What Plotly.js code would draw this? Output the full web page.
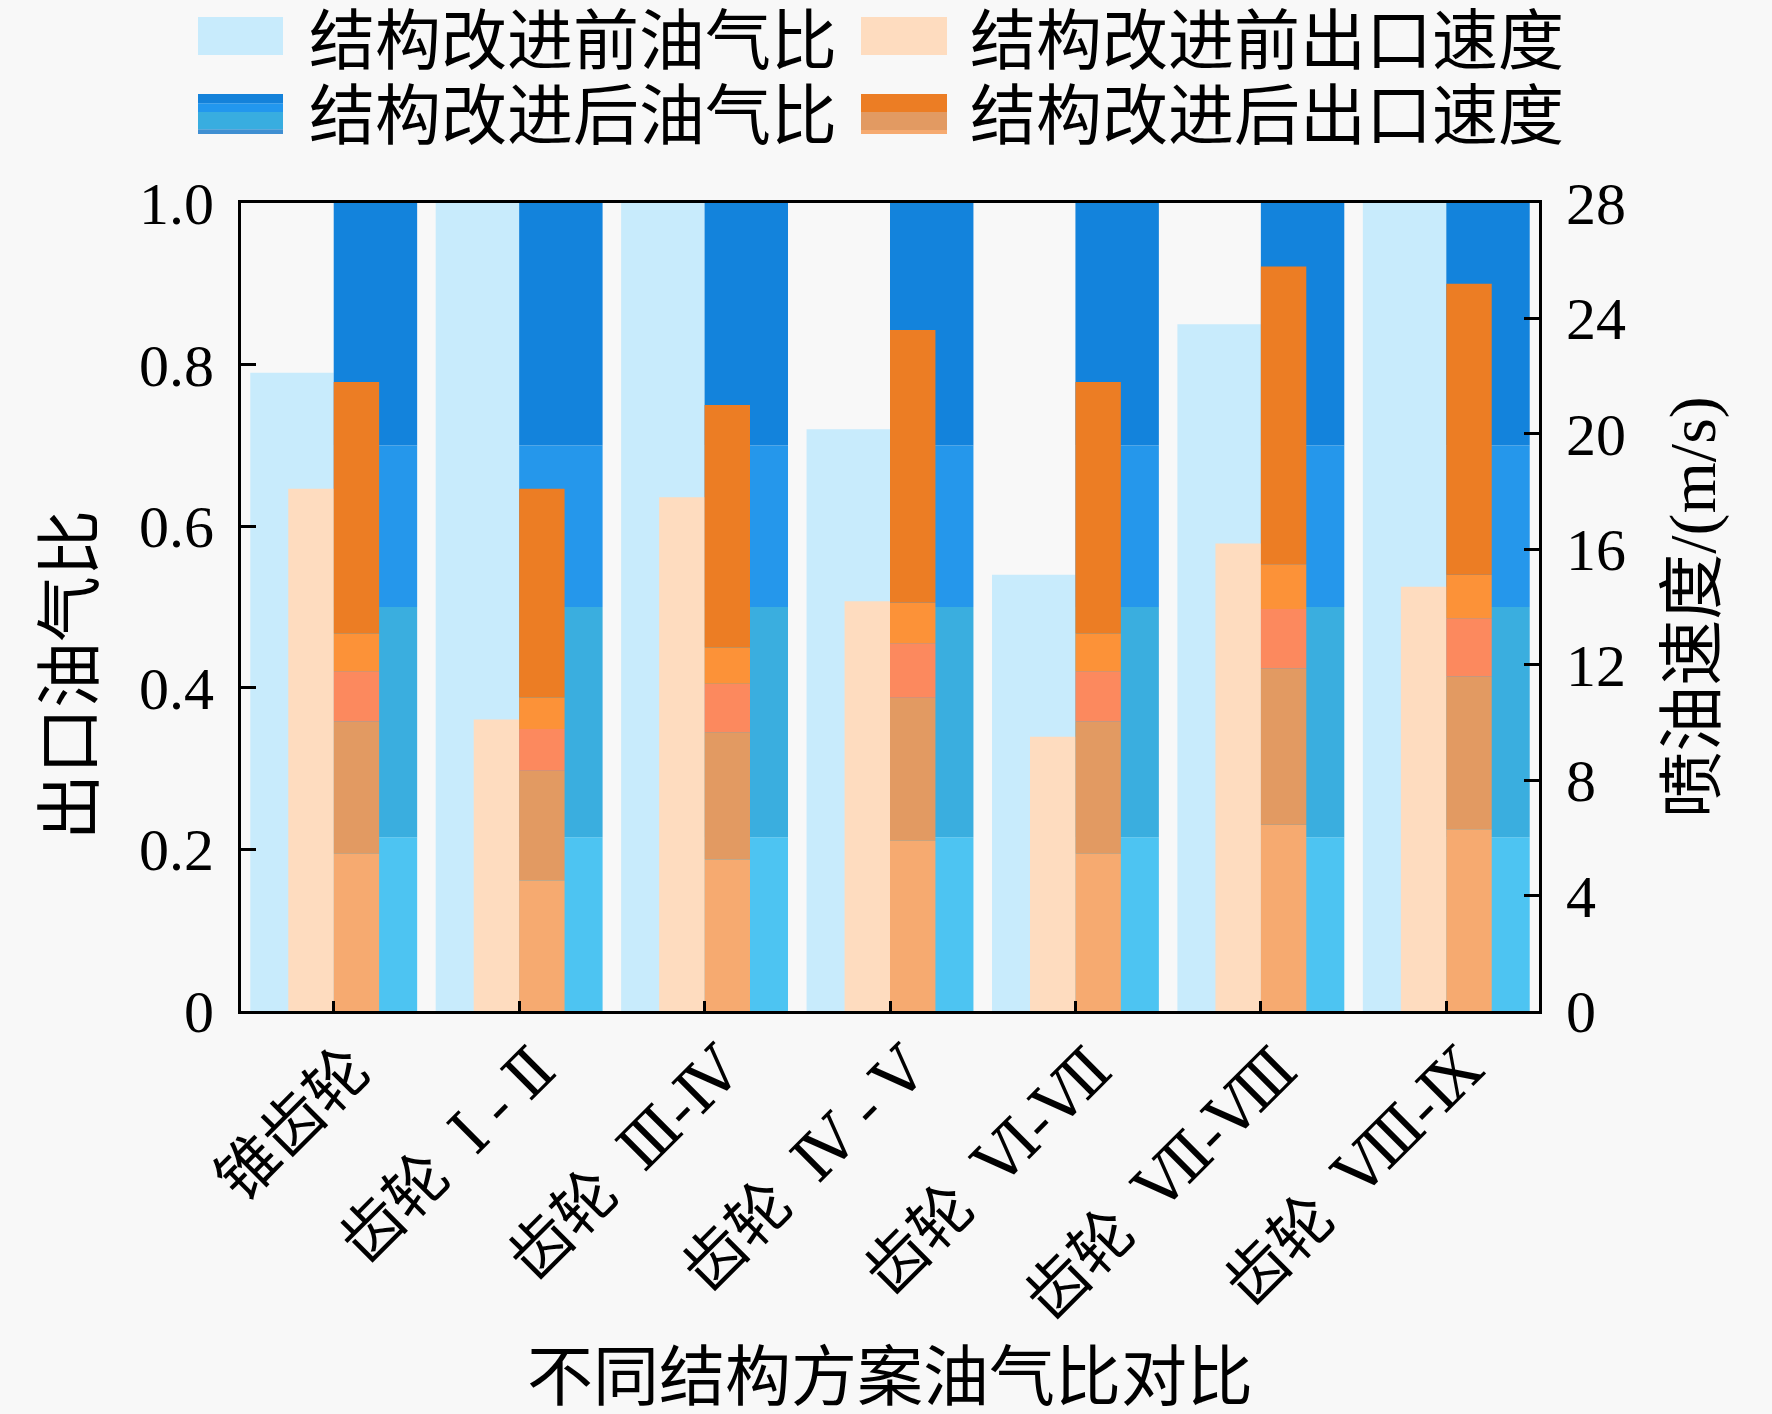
<!DOCTYPE html>
<html>
<head>
<meta charset="utf-8">
<script src="https://cdn.plot.ly/plotly-3.0.1.min.js"></script>
<style>
  html, body { margin: 0; padding: 0; background: #f8f8f8; }
  #chart { width: 1772px; height: 1414px; }
</style>
</head>
<body>
<div id="chart"></div>
<script>
// ---------------- data ----------------
const GAP = '\u00a0\u00a0';
const categories = ['锥齿轮', '齿轮' + GAP + 'Ⅰ - Ⅱ', '齿轮' + GAP + 'Ⅲ-Ⅳ', '齿轮' + GAP + 'Ⅳ - Ⅴ',
                    '齿轮' + GAP + 'Ⅵ-Ⅶ', '齿轮' + GAP + 'Ⅶ-Ⅷ', '齿轮' + GAP + 'Ⅷ-Ⅸ'];
const ratioBefore = [0.79, 1.0, 1.0, 0.72, 0.54, 0.85, 1.0];   // 结构改进前油气比
const ratioAfter  = [1.0, 1.0, 1.0, 1.0, 1.0, 1.0, 1.0];       // 结构改进后油气比
const speedBefore = [18.1, 10.1, 17.8, 14.2, 9.5, 16.2, 14.7];  // 结构改进前出口速度 (m/s)
const speedAfter  = [21.8, 18.1, 21.0, 23.6, 21.8, 25.8, 25.2]; // 结构改进后出口速度 (m/s)
const leftTicks  = [0, 0.2, 0.4, 0.6, 0.8, 1.0];
const leftTickText = ['0', '0.2', '0.4', '0.6', '0.8', '1.0'];
const rightTicks = [0, 4, 8, 12, 16, 20, 24, 28];
const seriesNames = ['结构改进前油气比', '结构改进前出口速度', '结构改进后油气比', '结构改进后出口速度'];
const xTitle = '不同结构方案油气比对比';
const yTitle = '出口油气比';
const y2Title = '喷油速度/(m/s)';

// ---------------- styles ----------------
const FONT = "'Liberation Serif', 'DejaVu Serif', 'Times New Roman', 'Noto Sans CJK SC', serif";
const BG = '#f8f8f8';
const lightBlue = '#c8ebfc';
const peach = '#fedcbf';
// gradient bands as fractions of each bar's height
const blueBands = [
  {from: 0.0,   to: 0.215, color: '#4dc4f2'},
  {from: 0.215, to: 0.5,   color: '#3aaedf'},
  {from: 0.5,   to: 0.7,   color: '#2597eb'},
  {from: 0.7,   to: 1.0,   color: '#1383dc'}
];
const orangeBands = [
  {from: 0.0,  to: 0.25, color: '#f6aa70'},
  {from: 0.25, to: 0.46, color: '#e29a62'},
  {from: 0.46, to: 0.54, color: '#fc895e'},
  {from: 0.54, to: 0.6,  color: '#fc9238'},
  {from: 0.6,  to: 1.0,  color: '#ec7d24'}
];
const W_RATIO = 0.45, W_SPEED = 0.245;

const traces = [];
function solid(values, name, color, yaxis, width, offset) {
  traces.push({
    type: 'bar', name: name, x: categories, y: values, yaxis: yaxis,
    width: width, offset: offset, showlegend: false,
    marker: {color: color, line: {width: 0}},
    hovertemplate: name + ' %{x}: %{y}<extra></extra>'
  });
}
function banded(values, name, bands, yaxis, width, offset) {
  bands.forEach(b => {
    traces.push({
      type: 'bar', name: name, x: categories,
      y: values.map(v => v * (b.to - b.from)),
      base: values.map(v => v * b.from),
      yaxis: yaxis, width: width, offset: offset, showlegend: false,
      marker: {color: b.color, line: {width: 0}},
      customdata: values,
      hovertemplate: name + ' %{x}: %{customdata}<extra></extra>'
    });
  });
}
// left axis bars
solid(ratioBefore, seriesNames[0], lightBlue, 'y', W_RATIO, -W_RATIO);
banded(ratioAfter, seriesNames[2], blueBands, 'y', W_RATIO, 0);
// right axis bars (drawn above)
solid(speedBefore, seriesNames[1], peach, 'y2', W_SPEED, -W_SPEED);
banded(speedAfter, seriesNames[3], orangeBands, 'y2', W_SPEED, 0);

// ---------------- manual legend (patches + labels) ----------------
const M = {l: 241, r: 233, t: 203, b: 403};
const PW = 1772 - M.l - M.r, PH = 1414 - M.t - M.b;
const px = v => (v - M.l) / PW;
const py = v => (1414 - M.b - v) / PH;

const legendItems = [
  {name: seriesNames[0], col: 0, row: 0, bands: [{from: 0, to: 1, color: lightBlue}]},
  {name: seriesNames[1], col: 1, row: 0, bands: [{from: 0, to: 1, color: peach}]},
  {name: seriesNames[2], col: 0, row: 1, bands: [
      {from: 0.0, to: 0.12, color: '#3f8fd2'},
      {from: 0.12, to: 0.55, color: '#38ade0'},
      {from: 0.55, to: 0.77, color: '#2297ee'},
      {from: 0.77, to: 1.0, color: '#1482da'}]},
  {name: seriesNames[3], col: 1, row: 1, bands: [
      {from: 0.0, to: 0.1, color: '#f6aa70'},
      {from: 0.1, to: 0.55, color: '#e29a62'},
      {from: 0.55, to: 1.0, color: '#ec7d24'}]}
];
const patchX = [[198, 283], [861, 947]];
const patchY = [[17, 55], [94, 134]];
const textX = [307, 968];
const textY = [41, 117];
const shapes = [];
const annotations = [];
legendItems.forEach(it => {
  const [x0, x1] = patchX[it.col];
  const [yTop, yBot] = patchY[it.row];
  it.bands.forEach(b => {
    shapes.push({
      type: 'rect', xref: 'paper', yref: 'paper', layer: 'above',
      x0: px(x0), x1: px(x1),
      y0: py(yBot - (yBot - yTop) * b.from), y1: py(yBot - (yBot - yTop) * b.to),
      fillcolor: b.color, line: {width: 0}
    });
  });
  annotations.push({
    xref: 'paper', yref: 'paper', x: px(textX[it.col]), y: py(textY[it.row]),
    xanchor: 'left', yanchor: 'middle', showarrow: false,
    text: it.name, font: {family: FONT, size: 66, color: '#000'}
  });
});
// left axis title (sits below the plot's vertical centre, as in the reference)
annotations.push({
  xref: 'paper', yref: 'paper', x: px(70), y: py(675),
  xanchor: 'center', yanchor: 'middle', showarrow: false, textangle: -90,
  text: yTitle, font: {family: FONT, size: 66, color: '#000'}
});

const axisCommon = {
  showline: true, linecolor: '#000', linewidth: 3,
  ticks: 'inside', tickcolor: '#000', tickwidth: 3,
  showgrid: false, zeroline: false,
  tickfont: {family: FONT, size: 60, color: '#000'}
};

const layout = {
  width: 1772, height: 1414,
  margin: M,
  paper_bgcolor: BG, plot_bgcolor: BG,
  barmode: 'overlay',
  showlegend: false,
  font: {family: FONT, color: '#000'},
  xaxis: Object.assign({}, axisCommon, {
    type: 'category', range: [-0.5, 6.5], mirror: true,
    ticklen: 10, tickangle: -45, ticklabelstandoff: -6, ticklabelshift: 18,
    tickfont: {family: FONT, size: 62, color: '#000'},
    title: {text: xTitle, font: {family: FONT, size: 66, color: '#000'}, standoff: 52}
  }),
  yaxis: Object.assign({}, axisCommon, {
    range: [0, 1], tickvals: leftTicks, ticktext: leftTickText, mirror: true,
    ticklen: 15, ticklabelstandoff: 12
  }),
  yaxis2: Object.assign({}, axisCommon, {
    overlaying: 'y', side: 'right', range: [0, 28], tickvals: rightTicks,
    ticklen: 15, ticklabelstandoff: 12,
    title: {text: y2Title, font: {family: FONT, size: 66, color: '#000'}, standoff: 44}
  }),
  shapes: shapes,
  annotations: annotations
};

Plotly.newPlot('chart', traces, layout, {displayModeBar: false, staticPlot: true});
</script>
</body>
</html>
